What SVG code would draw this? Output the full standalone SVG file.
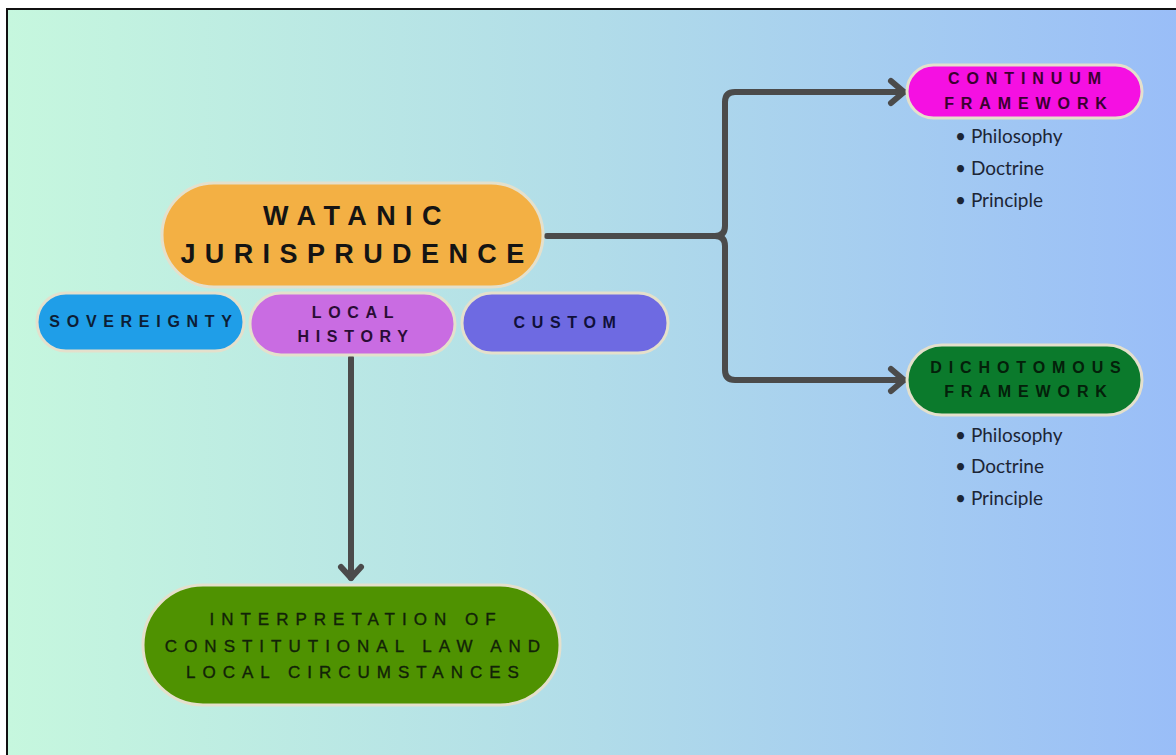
<svg xmlns="http://www.w3.org/2000/svg" width="1176" height="755" viewBox="0 0 1176 755">
  <defs>
    <linearGradient id="bg" x1="0" y1="0" x2="1" y2="0">
      <stop offset="0" stop-color="#c6f7de"/>
      <stop offset="0.5" stop-color="#b1dce9"/>
      <stop offset="1" stop-color="#99bdf8"/>
    </linearGradient>
  </defs>
  <style>
    .pill { stroke: #e4e0cc; stroke-width: 3; }
    .lbl { font-family: "Liberation Sans", Arial, sans-serif; font-weight: bold; text-anchor: middle; }
    .big { font-size: 27px; letter-spacing: 9.4px; fill: #141414; }
    .mid { font-size: 16px; letter-spacing: 6.7px; }
    .fw { font-size: 16px; letter-spacing: 6.9px; }
    .interp { font-family: "Liberation Sans", Arial, sans-serif; font-size: 17px; letter-spacing: 7px; text-anchor: middle; fill: #122208; stroke: #122208; stroke-width: 0.35; }
    .bul { font-family: Lato, "Noto Sans", sans-serif; font-size: 19px; fill: #1c2535; }
    .con { fill: none; stroke: #4b4b4b; stroke-width: 6; stroke-linecap: round; stroke-linejoin: round; }
  </style>
  <rect x="0" y="0" width="1176" height="755" fill="#ffffff"/>
  <rect x="7" y="9" width="1180" height="760" fill="url(#bg)" stroke="#111111" stroke-width="2"/>

  <g id="connectors">
    <path class="con" d="M547,236 H715 Q725,236 725,226 V102 Q725,92 735,92 H904"/>
    <path class="con" d="M715,236 Q725,236 725,246 V370 Q725,380 735,380 H904"/>
    <polyline class="con" points="891,81 904,92 891,103"/>
    <polyline class="con" points="891,369 904,380 891,391"/>
    <path class="con" d="M351,358 V578"/>
    <polyline class="con" points="341,567 351,578 361,567"/>
  </g>

  <g id="watanic">
    <rect class="pill" x="162" y="183" width="381" height="104" rx="52" fill="#f3b044"/>
    <text class="lbl big" x="357" y="225">WATANIC</text>
    <text class="lbl big" x="357" y="263">JURISPRUDENCE</text>
  </g>

  <g id="sovereignty">
    <rect class="pill" x="37" y="293" width="207" height="58" rx="29" fill="#1f9ee8"/>
    <text class="lbl mid" x="144" y="327" fill="#0c1d35">SOVEREIGNTY</text>
  </g>

  <g id="local-history">
    <rect class="pill" x="250" y="293" width="205" height="62" rx="31" fill="#c96ce2"/>
    <text class="lbl mid" x="356" y="318" fill="#2a0c35">LOCAL</text>
    <text class="lbl mid" x="356" y="342" fill="#2a0c35">HISTORY</text>
  </g>

  <g id="custom">
    <rect class="pill" x="462" y="293" width="206" height="60" rx="30" fill="#6e6ae2"/>
    <text class="lbl mid" x="568" y="328" fill="#10103a">CUSTOM</text>
  </g>

  <g id="continuum">
    <rect class="pill" x="907" y="65" width="235" height="53" rx="26.5" fill="#f510e2" stroke="#f0c6e6"/>
    <text class="lbl fw" x="1028" y="84" fill="#3a0030">CONTINUUM</text>
    <text class="lbl fw" x="1029" y="109" fill="#3a0030">FRAMEWORK</text>
    <text class="bul" x="955" y="143">• Philosophy</text>
    <text class="bul" x="955" y="175">• Doctrine</text>
    <text class="bul" x="955" y="207">• Principle</text>
  </g>

  <g id="dichotomous">
    <rect class="pill" x="907" y="345" width="235" height="70" rx="35" fill="#0b7a2c"/>
    <text class="lbl fw" x="1029" y="373" fill="#04200a">DICHOTOMOUS</text>
    <text class="lbl fw" x="1029" y="397" fill="#04200a">FRAMEWORK</text>
    <text class="bul" x="955" y="442">• Philosophy</text>
    <text class="bul" x="955" y="473">• Doctrine</text>
    <text class="bul" x="955" y="505">• Principle</text>
  </g>

  <g id="interpretation">
    <rect class="pill" x="143" y="585" width="417" height="120" rx="60" fill="#4f9201"/>
    <text class="interp" x="356" y="625">INTERPRETATION OF</text>
    <text class="interp" x="356" y="652">CONSTITUTIONAL LAW AND</text>
    <text class="interp" x="356" y="678">LOCAL CIRCUMSTANCES</text>
  </g>
</svg>
